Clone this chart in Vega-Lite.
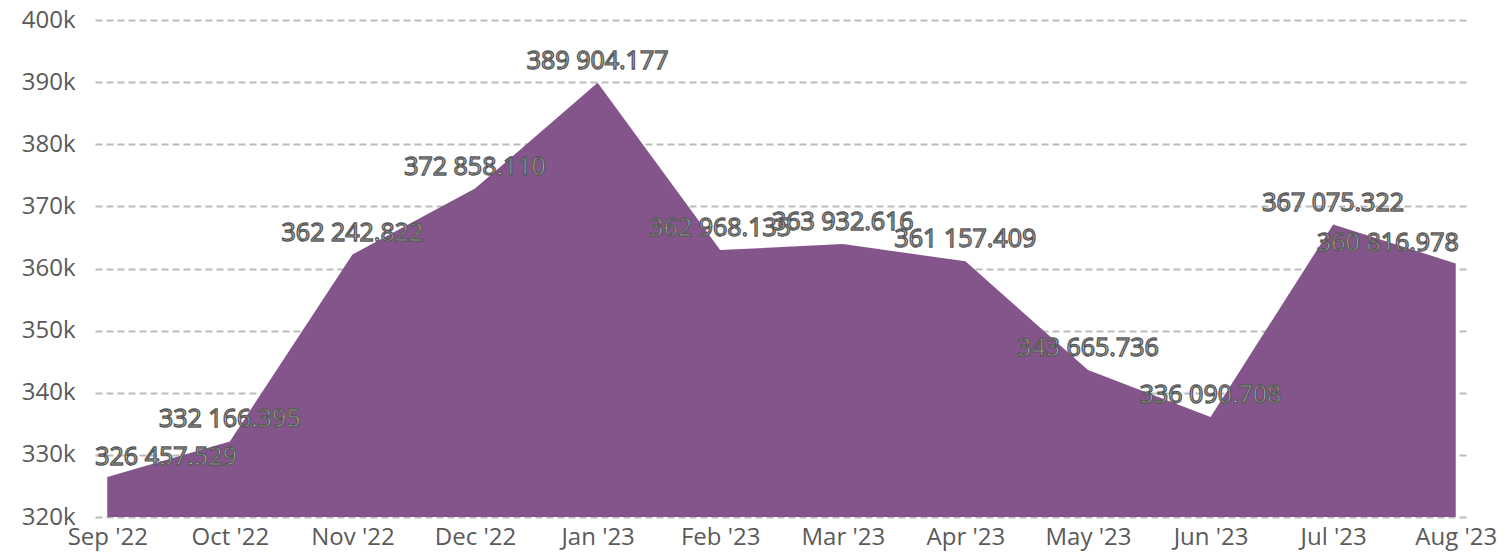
{
  "$schema": "https://vega.github.io/schema/vega-lite/v6.json",
  "autosize": "none",
  "width": 1373,
  "height": 497,
  "padding": {"left": 95, "top": 20, "right": 43, "bottom": 41},
  "background": "white",
  "config": {
    "view": {"stroke": null},
    "locale": {"number": {"decimal": ".", "thousands": " ", "grouping": [3], "currency": ["", ""]}},
    "font": "Open Sans"
  },
  "data": {"values": [
    {"month": "Sep '22", "value": 326457.529, "pos": "first"},
    {"month": "Oct '22", "value": 332166.395, "pos": "mid"},
    {"month": "Nov '22", "value": 362242.822, "pos": "mid"},
    {"month": "Dec '22", "value": 372858.110, "pos": "mid"},
    {"month": "Jan '23", "value": 389904.177, "pos": "mid"},
    {"month": "Feb '23", "value": 362968.135, "pos": "mid"},
    {"month": "Mar '23", "value": 363932.616, "pos": "mid"},
    {"month": "Apr '23", "value": 361157.409, "pos": "mid"},
    {"month": "May '23", "value": 343665.736, "pos": "mid"},
    {"month": "Jun '23", "value": 336090.708, "pos": "mid"},
    {"month": "Jul '23", "value": 367075.322, "pos": "mid"},
    {"month": "Aug '23", "value": 360816.978, "pos": "last"}
  ]},
  "encoding": {
    "x": {
      "field": "month", "type": "ordinal", "sort": null,
      "scale": {"type": "point", "padding": 0.1},
      "axis": {
        "title": null, "labelAngle": 0, "domain": false, "ticks": false, "grid": false,
        "labelFontSize": 24, "labelColor": "#5a5a5a", "labelPadding": 8, "labelFont": "Open Sans", "labelOverlap": false
      }
    },
    "y": {
      "field": "value", "type": "quantitative",
      "scale": {"domain": [320000, 400000], "nice": false, "zero": false},
      "axis": {
        "title": null, "values": [320000, 330000, 340000, 350000, 360000, 370000, 380000, 390000, 400000],
        "format": "~s", "domain": false, "ticks": false, "labelOverlap": false,
        "labelFontSize": 24, "labelColor": "#5a5a5a", "labelPadding": 20, "labelFont": "Open Sans",
        "grid": true, "gridColor": "#bbbbbb", "gridWidth": 2, "gridDash": [7, 4]
      }
    }
  },
  "layer": [
    {"mark": {"type": "area", "color": "#83558a", "opacity": 1, "line": false, "clip": true}},
    {
      "transform": [{"filter": "datum.pos === 'mid'"}],
      "mark": {"type": "text", "fontSize": 25, "dy": -22, "baseline": "middle", "align": "center", "fill": "#e6e6e6", "stroke": "#5a5a5a", "strokeWidth": 1.4},
      "encoding": {"text": {"field": "value", "type": "quantitative", "format": ",.3f"}}
    },
    {
      "transform": [{"filter": "datum.pos === 'first'"}],
      "mark": {"type": "text", "fontSize": 25, "dy": -20, "dx": -12, "baseline": "middle", "align": "left", "fill": "#e6e6e6", "stroke": "#5a5a5a", "strokeWidth": 1.4},
      "encoding": {"text": {"field": "value", "type": "quantitative", "format": ",.3f"}}
    },
    {
      "transform": [{"filter": "datum.pos === 'last'"}],
      "mark": {"type": "text", "fontSize": 25, "dy": -20, "dx": 3, "baseline": "middle", "align": "right", "fill": "#e6e6e6", "stroke": "#5a5a5a", "strokeWidth": 1.4},
      "encoding": {"text": {"field": "value", "type": "quantitative", "format": ",.3f"}}
    }
  ]
}
